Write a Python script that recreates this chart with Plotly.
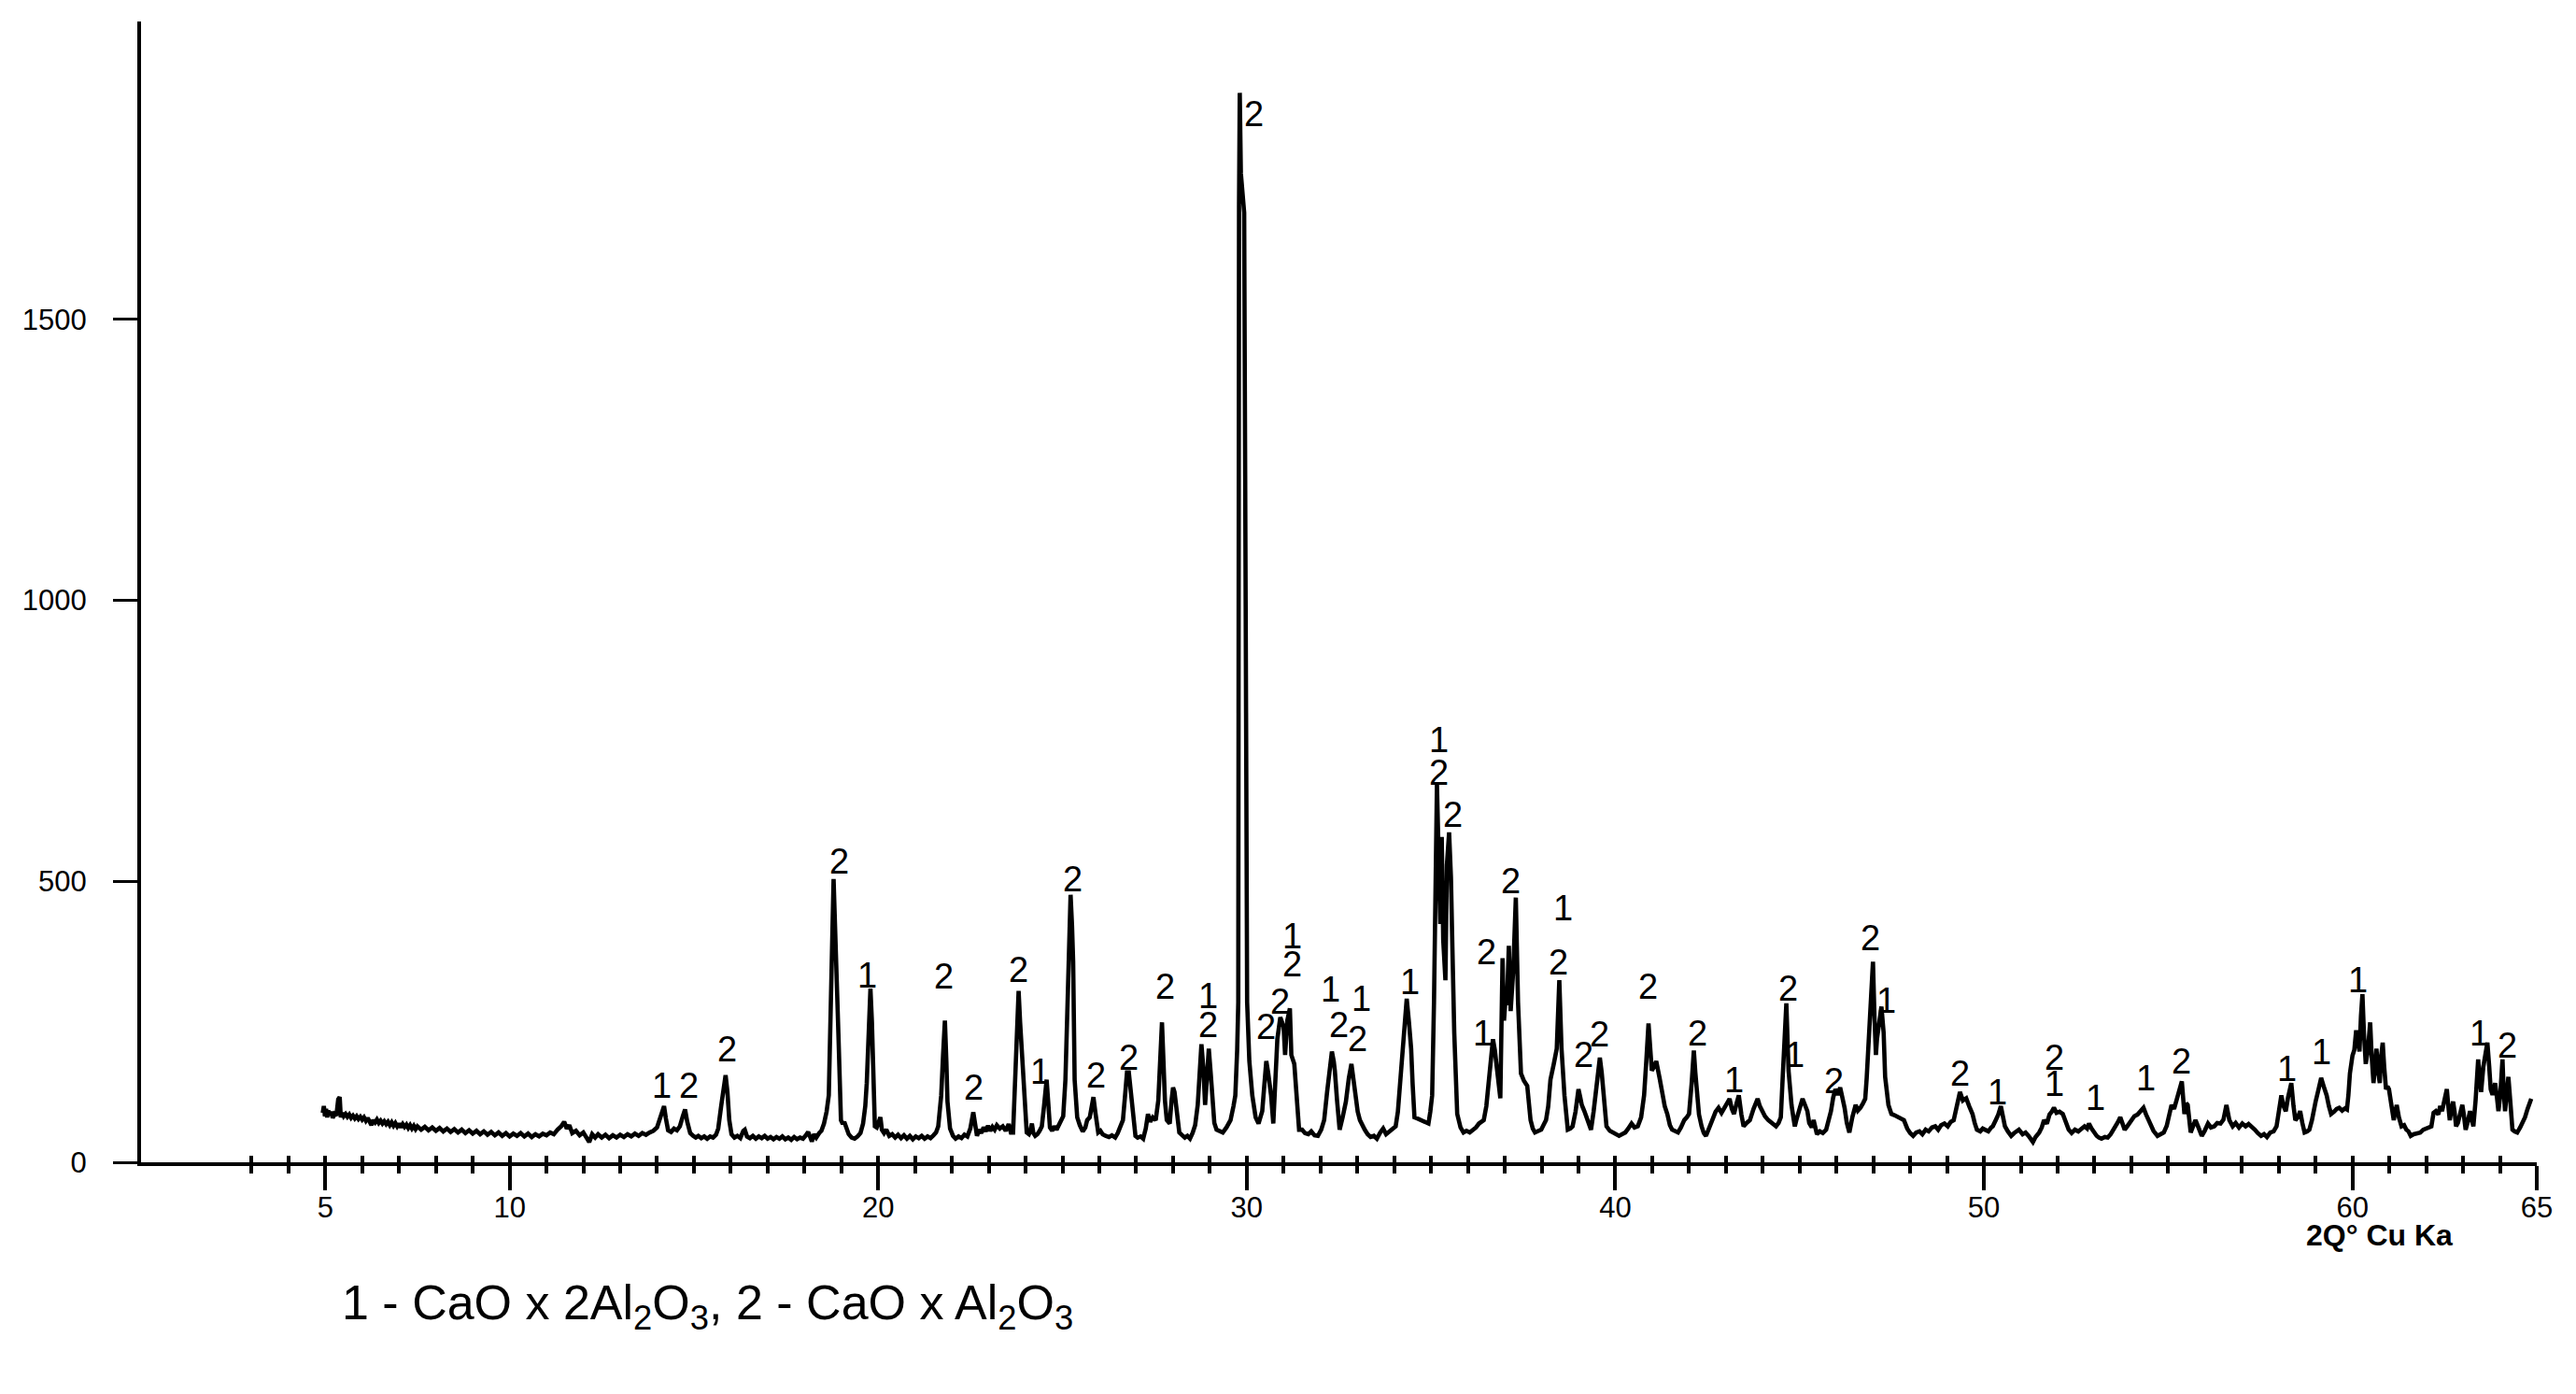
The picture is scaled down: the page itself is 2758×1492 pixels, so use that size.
import plotly.graph_objects as go

# ---------------- data: XRD pattern (2theta in degrees, counts) ----------------
SEG_05_15 = [(4.93,88),(4.96,100),(4.99,82),(5.02,95),(5.05,80),(5.08,92),(5.12,84),(5.16,90),(5.2,79),(5.25,86),(5.3,83),(5.35,112),(5.39,116),(5.42,80),(5.46,88),(5.5,82),(5.55,86),(5.6,81),(5.65,85),(5.7,79),(5.75,83),(5.8,78),(5.85,82),(5.9,77),(5.95,81),(6.0,76),(6.05,80),(6.1,74),(6.15,79),(6.2,73),(6.25,66),(6.3,75),(6.35,71),(6.4,76),(6.45,70),(6.5,74),(6.55,69),(6.6,73),(6.65,68),(6.7,72),(6.75,66),(6.8,71),(6.85,65),(6.9,70),(6.95,64),(7.0,69),(7.05,62),(7.1,68),(7.15,63),(7.2,67),(7.25,61),(7.3,66),(7.35,60),(7.4,65),(7.45,59),(7.5,64),(7.6,58),(7.7,63),(7.8,57),(7.9,62),(8.0,56),(8.1,61),(8.2,55),(8.3,60),(8.4,54),(8.5,59),(8.6,53),(8.7,58),(8.8,52),(8.9,57),(9.0,51),(9.1,56),(9.2,50),(9.3,55),(9.4,49),(9.5,54),(9.6,48),(9.7,53),(9.8,47),(9.9,52),(10.0,46),(10.1,51),(10.2,47),(10.3,52),(10.4,46),(10.5,51),(10.6,45),(10.7,50),(10.8,46),(10.9,51),(11.0,48),(11.1,53),(11.2,50),(11.3,58),(11.4,64),(11.48,72),(11.55,60),(11.62,66),(11.7,52),(11.8,56),(11.9,48),(12.0,53),(12.08,45),(12.16,36),(12.24,50),(12.32,44),(12.4,50),(12.5,44),(12.6,49),(12.7,43),(12.8,48),(12.9,44),(13.0,49),(13.1,45),(13.2,50),(13.3,46),(13.4,51),(13.5,47),(13.6,52),(13.7,49),(13.8,53),(13.9,56),(14.0,62),(14.08,80),(14.15,96),(14.19,100),(14.24,78),(14.3,57),(14.38,54),(14.46,60),(14.54,57),(14.62,64),(14.7,82),(14.76,94),(14.82,72),(14.9,52),(14.98,47)]

SEG_15_25 = [(15.05,44),(15.12,47),(15.2,43),(15.28,46),(15.36,42),(15.44,46),(15.52,44),(15.6,49),(15.66,60),(15.74,100),(15.81,140),(15.86,155),(15.91,125),(15.96,75),(16.02,50),(16.1,44),(16.18,47),(16.26,43),(16.34,56),(16.38,58),(16.44,46),(16.52,43),(16.6,47),(16.68,42),(16.76,46),(16.84,43),(16.92,47),(17.0,42),(17.08,45),(17.16,41),(17.24,45),(17.32,42),(17.4,46),(17.48,41),(17.56,44),(17.64,40),(17.72,45),(17.8,41),(17.88,44),(17.96,42),(18.04,48),(18.1,54),(18.16,44),(18.2,37),(18.26,50),(18.32,44),(18.4,52),(18.46,56),(18.53,69),(18.6,90),(18.66,119),(18.7,250),(18.73,357),(18.76,440),(18.79,504),(18.82,440),(18.85,357),(18.92,230),(18.99,75),(19.04,68),(19.08,72),(19.14,58),(19.2,50),(19.28,44),(19.36,42),(19.44,46),(19.52,52),(19.59,69),(19.65,100),(19.69,141),(19.74,230),(19.79,309),(19.83,250),(19.86,186),(19.91,64),(19.96,62),(20.02,72),(20.06,80),(20.1,58),(20.16,52),(20.22,58),(20.3,47),(20.38,50),(20.46,44),(20.54,49),(20.62,43),(20.7,48),(20.78,42),(20.86,47),(20.94,41),(21.02,46),(21.1,43),(21.18,47),(21.26,42),(21.34,46),(21.42,43),(21.5,48),(21.57,53),(21.63,64),(21.71,119),(21.76,190),(21.81,252),(21.85,180),(21.88,108),(21.95,60),(22.03,47),(22.1,42),(22.18,46),(22.26,43),(22.34,49),(22.42,46),(22.5,60),(22.58,89),(22.63,62),(22.68,47),(22.74,58),(22.8,52),(22.86,62),(22.92,55),(22.98,65),(23.04,56),(23.1,63),(23.16,58),(23.22,66),(23.3,60),(23.38,64),(23.46,56),(23.54,68),(23.6,53),(23.66,53),(23.72,150),(23.76,210),(23.81,305),(23.85,250),(23.88,215),(23.93,150),(23.97,110),(24.03,53),(24.09,50),(24.13,56),(24.17,69),(24.21,52),(24.26,47),(24.32,50),(24.38,56),(24.44,64),(24.5,100),(24.55,140),(24.57,147),(24.61,110),(24.66,62),(24.72,56),(24.78,64),(24.84,58),(24.9,66),(24.96,70),(25.02,82),(25.08,147),(25.13,280),(25.17,400),(25.22,476),(25.26,420),(25.29,357),(25.33,147),(25.4,80),(25.47,66),(25.55,55),(25.62,62)]

SEG_25_35 = [(25.67,75),(25.74,80),(25.8,104),(25.84,116),(25.89,90),(25.97,53),(26.03,56),(26.09,50),(26.17,47),(26.26,45),(26.34,48),(26.43,44),(26.5,52),(26.57,62),(26.64,75),(26.7,120),(26.75,160),(26.8,160),(26.86,125),(26.9,102),(26.95,60),(26.98,47),(27.04,44),(27.12,46),(27.19,42),(27.26,60),(27.32,86),(27.38,72),(27.45,80),(27.53,75),(27.6,110),(27.66,200),(27.7,249),(27.74,180),(27.78,110),(27.83,75),(27.91,69),(27.96,110),(28.0,133),(28.04,125),(28.08,102),(28.13,70),(28.17,53),(28.25,48),(28.32,44),(28.39,47),(28.46,42),(28.53,52),(28.6,66),(28.67,102),(28.72,170),(28.77,210),(28.82,170),(28.87,102),(28.92,150),(28.97,202),(29.02,160),(29.07,97),(29.12,70),(29.18,58),(29.26,55),(29.35,53),(29.45,62),(29.56,75),(29.64,100),(29.69,119),(29.74,200),(29.77,285),(29.79,1700),(29.81,1903),(29.84,1760),(29.93,1690),(29.97,1000),(30.01,285),(30.07,180),(30.15,119),(30.24,80),(30.32,69),(30.37,80),(30.42,91),(30.48,140),(30.53,180),(30.58,160),(30.66,119),(30.72,69),(30.78,140),(30.83,219),(30.91,258),(30.96,250),(31.0,241),(31.04,191),(31.1,252),(31.17,274),(31.21,191),(31.29,175),(31.36,100),(31.42,58),(31.5,58),(31.58,52),(31.67,50),(31.75,55),(31.84,48),(31.93,47),(32.02,58),(32.1,75),(32.18,125),(32.25,170),(32.31,197),(32.36,180),(32.39,163),(32.45,110),(32.52,58),(32.6,80),(32.69,108),(32.77,150),(32.84,175),(32.89,150),(32.94,119),(33.01,90),(33.07,75),(33.14,64),(33.2,58),(33.28,50),(33.36,45),(33.45,47),(33.53,42),(33.62,53),(33.7,60),(33.78,50),(33.87,55),(33.95,58),(34.04,64),(34.1,90),(34.17,147),(34.25,220),(34.34,291),(34.4,250),(34.46,202),(34.5,140),(34.55,80),(34.63,78),(34.72,75),(34.82,72),(34.93,69),(34.98,90),(35.03,119)]

SEG_35_45 = [(35.08,285),(35.12,579),(35.16,673),(35.2,560),(35.25,424),(35.29,579),(35.33,396),(35.39,324),(35.43,529),(35.49,587),(35.54,507),(35.58,380),(35.63,230),(35.71,86),(35.8,62),(35.88,53),(35.96,56),(36.05,53),(36.14,58),(36.22,62),(36.3,69),(36.43,75),(36.5,100),(36.56,147),(36.62,190),(36.68,219),(36.73,200),(36.77,175),(36.83,130),(36.88,114),(36.94,363),(36.98,252),(37.02,290),(37.06,280),(37.11,385),(37.16,269),(37.23,341),(37.3,471),(37.36,285),(37.44,158),(37.52,145),(37.61,136),(37.7,75),(37.76,60),(37.82,53),(37.9,56),(37.99,58),(38.05,66),(38.12,75),(38.18,100),(38.24,147),(38.33,175),(38.41,202),(38.48,324),(38.54,202),(38.62,119),(38.71,58),(38.78,60),(38.84,64),(38.92,90),(39.0,130),(39.05,115),(39.09,102),(39.16,91),(39.26,69),(39.34,58),(39.41,90),(39.47,130),(39.53,165),(39.58,186),(39.63,160),(39.68,125),(39.76,64),(39.85,56),(39.93,53),(40.02,50),(40.1,47),(40.18,50),(40.27,53),(40.35,60),(40.44,69),(40.52,62),(40.61,64),(40.7,80),(40.78,119),(40.84,180),(40.9,247),(40.95,200),(40.99,163),(41.05,170),(41.11,180),(41.2,150),(41.28,119),(41.34,100),(41.41,86),(41.48,66),(41.54,58),(41.62,55),(41.7,53),(41.78,62),(41.87,75),(41.94,80),(42.0,86),(42.07,140),(42.13,199),(42.17,160),(42.21,119),(42.27,85),(42.34,64),(42.4,52),(42.46,47),(42.55,60),(42.63,75),(42.72,90),(42.8,97),(42.88,88),(42.97,97),(43.04,105),(43.1,113),(43.16,95),(43.22,86),(43.29,105),(43.35,119),(43.42,85),(43.48,64),(43.56,70),(43.65,75),(43.75,95),(43.86,113),(43.92,100),(43.98,91),(44.06,82),(44.15,75),(44.25,70),(44.36,64),(44.43,70),(44.49,80),(44.54,150),(44.57,197),(44.64,283),(44.7,163),(44.74,130),(44.78,102),(44.83,80),(44.87,64),(44.91,75),(44.95,86),(45.02,100),(45.08,113),(45.14,100),(45.21,91),(45.26,70),(45.33,62),(45.38,75),(45.43,60),(45.47,50)]

SEG_45_55 = [(45.55,55),(45.63,52),(45.72,58),(45.79,75),(45.85,91),(45.91,115),(45.97,130),(46.04,120),(46.1,133),(46.16,115),(46.22,97),(46.28,70),(46.35,53),(46.43,80),(46.52,102),(46.58,92),(46.65,97),(46.72,105),(46.78,113),(46.82,150),(46.86,202),(46.92,263),(46.99,357),(47.03,260),(47.07,191),(47.1,220),(47.14,241),(47.18,260),(47.22,277),(47.28,230),(47.32,152),(47.41,102),(47.49,86),(47.57,84),(47.66,80),(47.74,78),(47.83,75),(47.92,60),(48.0,52),(48.08,47),(48.16,53),(48.25,55),(48.33,50),(48.42,58),(48.5,55),(48.59,62),(48.68,64),(48.76,58),(48.84,66),(48.93,69),(49.02,64),(49.1,72),(49.18,75),(49.26,95),(49.3,110),(49.35,125),(49.43,110),(49.52,114),(49.6,100),(49.69,86),(49.75,70),(49.81,58),(49.9,55),(49.97,60),(50.03,58),(50.12,55),(50.2,62),(50.24,64),(50.32,75),(50.39,85),(50.46,100),(50.51,85),(50.57,64),(50.65,55),(50.74,47),(50.82,52),(50.9,55),(50.95,58),(51.05,50),(51.13,53),(51.21,47),(51.28,42),(51.33,36),(51.4,45),(51.5,53),(51.57,62),(51.63,75),(51.71,69),(51.78,85),(51.84,90),(51.9,97),(51.97,88),(52.05,90),(52.14,86),(52.22,70),(52.3,58),(52.38,52),(52.47,58),(52.56,55),(52.64,60),(52.73,64),(52.8,60),(52.85,69),(52.92,60),(52.98,53),(53.06,47),(53.12,44),(53.19,42),(53.28,45),(53.36,44),(53.44,50),(53.52,58),(53.57,64),(53.64,72),(53.7,80),(53.76,68),(53.82,58),(53.9,65),(53.99,75),(54.08,82),(54.17,85),(54.25,90),(54.33,97),(54.4,85),(54.5,69),(54.6,56),(54.71,47),(54.8,50),(54.88,53),(54.96,65),(55.03,85),(55.09,102),(55.16,95),(55.24,114),(55.31,125),(55.37,144)]

SEG_55_65 = [(55.44,86),(55.49,105),(55.53,102),(55.57,80),(55.61,53),(55.68,65),(55.74,75),(55.82,62),(55.91,47),(55.99,56),(56.08,69),(56.16,62),(56.25,64),(56.33,70),(56.42,69),(56.5,76),(56.55,100),(56.58,102),(56.66,75),(56.75,64),(56.83,70),(56.92,62),(57.01,69),(57.1,64),(57.18,68),(57.26,64),(57.35,58),(57.43,52),(57.52,47),(57.6,50),(57.68,45),(57.77,53),(57.86,55),(57.94,64),(58.0,90),(58.07,119),(58.13,100),(58.19,91),(58.25,115),(58.3,130),(58.34,141),(58.4,100),(58.45,75),(58.52,80),(58.58,91),(58.64,70),(58.7,53),(58.77,55),(58.83,58),(58.9,75),(58.95,95),(59.0,108),(59.08,130),(59.15,150),(59.22,135),(59.3,119),(59.36,100),(59.42,86),(59.5,90),(59.57,95),(59.64,97),(59.72,92),(59.8,96),(59.85,94),(59.89,120),(59.93,158),(60.0,190),(60.05,200),(60.1,235),(60.15,210),(60.19,197),(60.23,260),(60.27,299),(60.31,230),(60.36,175),(60.42,200),(60.48,249),(60.52,190),(60.57,141),(60.61,170),(60.65,202),(60.7,160),(60.74,141),(60.78,190),(60.82,213),(60.86,170),(60.91,130),(60.95,135),(60.99,130),(61.06,100),(61.12,75),(61.16,90),(61.2,102),(61.26,80),(61.33,64),(61.4,66),(61.46,58),(61.52,55),(61.58,47),(61.66,50),(61.75,52),(61.84,53),(61.92,58),(62.0,60),(62.08,62),(62.14,64),(62.2,88),(62.26,91),(62.33,85),(62.38,100),(62.43,91),(62.5,110),(62.56,130),(62.6,100),(62.64,75),(62.69,95),(62.73,108),(62.77,90),(62.81,64),(62.86,70),(62.9,80),(62.94,95),(62.98,102),(63.02,85),(63.07,58),(63.12,70),(63.19,91),(63.24,75),(63.28,64),(63.34,110),(63.38,160),(63.41,183),(63.45,150),(63.49,125),(63.55,170),(63.6,195),(63.66,213),(63.71,170),(63.75,130),(63.8,120),(63.87,141),(63.92,115),(63.96,91),(64.01,120),(64.04,180),(64.07,183),(64.1,130),(64.14,91),(64.18,120),(64.23,152),(64.28,110),(64.34,58),(64.4,55),(64.47,53),(64.55,62),(64.62,70),(64.68,80),(64.75,95),(64.82,108),(64.85,113)]

# phase labels above the peaks: 1 = CaO x 2Al2O3, 2 = CaO x Al2O3
LABEL_X = [14.13, 14.85, 15.89, 18.93, 19.69, 21.78, 22.58, 23.81, 24.38, 25.27,
           25.91, 26.80, 27.79, 28.94, 28.94, 30.19, 30.52, 30.90, 31.23, 31.23,
           32.27, 32.50, 33.11, 33.01, 34.42, 35.20, 35.20, 35.60, 36.39, 36.51,
           37.15, 38.58, 38.46, 39.13, 39.58, 40.89, 42.24, 43.22, 44.68, 44.87,
           45.92, 46.92, 47.34, 49.35, 50.36, 51.90, 51.92, 53.02, 54.39, 55.36,
           58.21, 59.15, 60.14, 63.45, 64.21]
LABEL_Y = [136, 136, 202, 536, 332, 331, 133, 342, 161, 504,
           155, 186, 313, 296, 244, 1865, 241, 286, 402, 353,
           307, 244, 291, 219, 321, 751, 694, 618, 230, 374,
           501, 452, 356, 191, 227, 313, 230, 147, 310, 191,
           144, 399, 288, 158, 125, 186, 139, 114, 150, 180,
           166, 197, 324, 230, 208]
LABEL_TEXT = ["1", "2", "2", "2", "1", "2", "2", "2", "1", "2",
              "2", "2", "2", "1", "2", "2", "2", "2", "1", "2",
              "1", "2", "1", "2", "1", "1", "2", "2", "1", "2",
              "2", "1", "2", "2", "2", "2", "2", "1", "2", "1",
              "2", "2", "1", "2", "1", "2", "1", "1", "1", "2",
              "1", "1", "1", "1", "2"]

X_MAJOR = [5, 10, 20, 30, 40, 50, 60, 65]
X_MINOR = list(range(3, 65))
Y_TICKS = [0, 500, 1000, 1500]

X_TITLE = "2Q° Cu Ka"
CAPTION = "1 - CaO x 2Al<sub>2</sub>O<sub>3</sub>, 2 - CaO x Al<sub>2</sub>O<sub>3</sub>"

# ---------------- build ----------------
points = SEG_05_15 + SEG_15_25 + SEG_25_35 + SEG_35_45 + SEG_45_55 + SEG_55_65
two_theta = [p[0] for p in points]
counts = [p[1] for p in points]

FONT = "Liberation Sans, Arial, sans-serif"

fig = go.Figure()
fig.add_trace(go.Scatter(x=two_theta, y=counts, mode="lines",
                         line=dict(color="black", width=4.6),
                         hoverinfo="skip", showlegend=False))
# helper trace so the overlaid tick axis (upper halves of the crossing ticks) is drawn
fig.add_trace(go.Scatter(x=two_theta[:1], y=counts[:1], xaxis="x2", mode="lines",
                         line=dict(color="rgba(0,0,0,0)", width=0),
                         hoverinfo="skip", showlegend=False))

annotations = []
for lx, ly, lt in zip(LABEL_X, LABEL_Y, LABEL_TEXT):
    annotations.append(dict(x=lx, y=ly, xref="x", yref="y", text=lt, showarrow=False,
                            xanchor="center", yanchor="middle",
                            font=dict(family=FONT, size=38, color="black")))
annotations.append(dict(x=0.9345, y=-0.0635, xref="paper", yref="paper",
                        text="<b>" + X_TITLE + "</b>", showarrow=False,
                        xanchor="center", yanchor="middle",
                        font=dict(family=FONT, size=32, color="black")))
annotations.append(dict(x=0.2365, y=-0.1265, xref="paper", yref="paper",
                        text=CAPTION, showarrow=False,
                        xanchor="center", yanchor="middle",
                        font=dict(family=FONT, size=52, color="black")))

fig.update_layout(
    width=2758, height=1492, autosize=False,
    margin=dict(l=143, r=50, t=15, b=256, pad=0),
    paper_bgcolor="white", plot_bgcolor="white",
    showlegend=False,
    xaxis=dict(range=[0, 65], showline=True, linewidth=4, linecolor="black",
               showgrid=False, zeroline=False,
               tickmode="array", tickvals=X_MAJOR, ticktext=[str(v) for v in X_MAJOR],
               ticks="outside", ticklen=26, tickwidth=4, tickcolor="black",
               tickfont=dict(family=FONT, size=31, color="black"),
               ticklabelstandoff=-8,
               minor=dict(tickmode="array", tickvals=X_MINOR, ticks="outside",
                          ticklen=8, tickwidth=4, tickcolor="black", showgrid=False)),
    xaxis2=dict(range=[0, 65], overlaying="x", anchor="y", side="bottom",
                showline=False, showgrid=False, zeroline=False, showticklabels=False,
                tickmode="array", tickvals=X_MINOR + [65], ticks="inside",
                ticklen=7, tickwidth=4, tickcolor="black"),
    yaxis=dict(range=[0, 2030], showline=True, linewidth=4, linecolor="black",
               showgrid=False, zeroline=False,
               tickmode="array", tickvals=Y_TICKS,
               ticks="outside", ticklen=26, tickwidth=3, tickcolor="black",
               tickfont=dict(family=FONT, size=31, color="black"),
               ticklabelstandoff=22),
    annotations=annotations,
)

fig.write_html("out.html")
